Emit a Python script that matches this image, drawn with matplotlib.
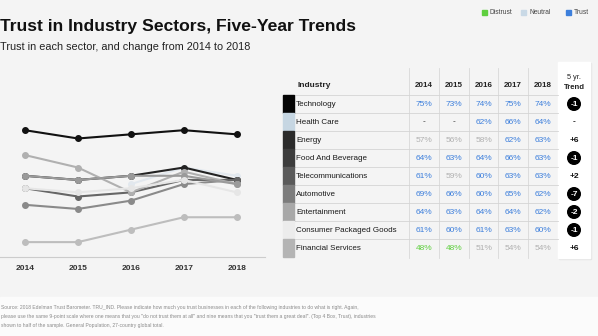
import numpy as np
import matplotlib.pyplot as plt
from matplotlib.patches import Rectangle, Circle

plt.rcParams['font.family'] = ['Liberation Sans', 'DejaVu Sans']

years = [2014, 2015, 2016, 2017, 2018]
sectors = ["Technology", "Health Care", "Energy", "Food And Beverage",
           "Telecommunications", "Automotive", "Entertainment",
           "Consumer Packaged Goods", "Financial Services"]
trust = [
    [75, 73, 74, 75, 74],
    [np.nan, np.nan, 62, 66, 64],
    [57, 56, 58, 62, 63],
    [64, 63, 64, 66, 63],
    [61, 59, 60, 63, 63],
    [69, 66, 60, 65, 62],
    [64, 63, 64, 64, 62],
    [61, 60, 61, 63, 60],
    [48, 48, 51, 54, 54],
]
trend = ["-1", "-", "+6", "-1", "+2", "-7", "-2", "-1", "+6"]
swatch_colors = ["#050505", "#c6d6e2", "#2b2b2b", "#3c3c3c", "#5a5a5a",
                 "#7c7c7c", "#a8a8a8", "#ececec", "#b4b4b4"]
line_colors = ["#111111", "#e2e8ee", "#8a8a8a", "#222222", "#666666",
               "#b0b0b0", "#9a9a9a", "#e6e6e6", "#bdbdbd"]

BLUE, GREY, GREEN = "#3d7fdc", "#b0b0b0", "#5fcf3f"


def value_color(v):
    if v >= 60:
        return BLUE
    if v >= 50:
        return GREY
    return GREEN


fig = plt.figure(figsize=(5.98, 3.36), dpi=100)
fig.patch.set_facecolor("#f4f4f4")

# pixel-space overlay for text, table and decorations
ov = fig.add_axes([0, 0, 1, 1])
ov.set_xlim(0, 598)
ov.set_ylim(336, 0)
ov.axis("off")

ov.add_patch(Rectangle((0, 297), 598, 39, color="#fbfbfb", zorder=0))

ov.text(0, 31.5, "Trust in Industry Sectors, Five-Year Trends", fontsize=12.6,
        fontweight="bold", color="#111111", va="baseline")
ov.text(0, 50.5, "Trust in each sector, and change from 2014 to 2018",
        fontsize=7.8, color="#222222", va="baseline")

# legend
for x, c, lab in [(482, GREEN, "Distrust"), (521, "#c9d9e6", "Neutral"),
                  (566, BLUE, "Trust")]:
    ov.add_patch(Rectangle((x, 10), 5, 5, color=c))
    ov.text(x + 8, 12.8, lab, fontsize=4.8, color="#444444", va="center")

# line chart
ax = fig.add_axes([0, 0.235, 0.443, 0.586])
ax.set_facecolor("none")
for vals, c in zip(trust, line_colors):
    ax.plot(years, vals, color=c, lw=1.5, marker="o", ms=4, mec=c, mfc=c)
ax.set_xlim(2013.53, 2018.53)
ax.set_ylim(44.4, 91.9)
ax.set_xticks(years)
ax.set_xticklabels([str(y) for y in years], fontsize=6, fontweight="bold",
                   color="#333333")
ax.set_yticks([])
ax.tick_params(axis="x", length=0, pad=6)
for s in ["top", "right", "left"]:
    ax.spines[s].set_visible(False)
ax.spines["bottom"].set_color("#cccccc")
ax.spines["bottom"].set_linewidth(0.8)

# table
row_h = 18
row0 = 95
col_sep = [409, 439, 469, 498, 528, 558]
col_mid = [424, 454, 484, 513, 543]
trend_x = 574

ov.add_patch(Rectangle((559, 63), 32, 196, color="#e4e4e4", zorder=1))
ov.add_patch(Rectangle((558, 62), 32, 196, color="white", zorder=2))

ov.text(298, 87, "Industry", fontsize=6, fontweight="bold", color="#222222",
        va="baseline")
for x, y in zip(col_mid, years):
    ov.text(x, 87, str(y), fontsize=5.8, fontweight="bold", color="#222222",
            ha="center", va="baseline")
ov.text(trend_x, 79, "5 yr.", fontsize=5.3, color="#222222", ha="center",
        va="baseline", zorder=3)
ov.text(trend_x, 89, "Trend", fontsize=5.6, fontweight="bold",
        color="#222222", ha="center", va="baseline", zorder=3)

for x in col_sep[:-1]:
    ov.plot([x, x], [68, 258], color="#d8d8d8", lw=0.6)
for i in range(len(sectors)):
    y = row0 + i * row_h
    ov.plot([293, 558], [y, y], color="#d4d4d4", lw=0.6)

for i, (name, vals, tr, sc) in enumerate(zip(sectors, trust, trend,
                                             swatch_colors)):
    top = row0 + i * row_h
    mid = top + row_h / 2
    ov.add_patch(Rectangle((283, top), 11, row_h, color=sc, zorder=2))
    ov.text(296, mid, name, fontsize=5.8, color="#1a1a1a", va="center")
    for x, v in zip(col_mid, vals):
        if np.isnan(v):
            ov.text(x, mid, "-", fontsize=6, color="#333333", ha="center",
                    va="center")
        else:
            ov.text(x, mid, f"{int(v)}%", fontsize=6, color=value_color(v),
                    ha="center", va="center")
    if tr.startswith("-") and tr != "-":
        ov.add_patch(Circle((trend_x, mid), 6.3, color="black", zorder=3))
        ov.text(trend_x, mid, tr, fontsize=6, fontweight="bold",
                color="white", ha="center", va="center", zorder=4)
    else:
        ov.text(trend_x, mid, tr, fontsize=6, fontweight="bold",
                color="#111111", ha="center", va="center", zorder=4)

footer = [
    "Source: 2018 Edelman Trust Barometer. TRU_IND. Please indicate how much you trust businesses in each of the following industries to do what is right. Again,",
    "please use the same 9-point scale where one means that you \"do not trust them at all\" and nine means that you \"trust them a great deal\". (Top 4 Box, Trust), industries",
    "shown to half of the sample. General Population, 27-country global total.",
]
for k, line in enumerate(footer):
    ov.text(1, 309 + k * 9.2, line, fontsize=3.6, color="#8a8a8a",
            va="baseline")

fig.savefig("out.png", dpi=100, facecolor=fig.get_facecolor())
